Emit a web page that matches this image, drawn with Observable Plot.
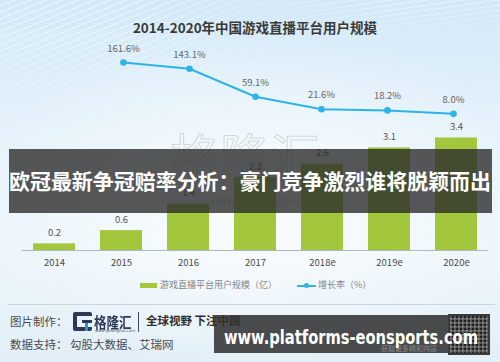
<!DOCTYPE html>
<html>
<head>
<meta charset="utf-8">
<script src="https://cdn.jsdelivr.net/npm/d3@7"></script>
<script src="https://cdn.jsdelivr.net/npm/@observablehq/plot@0.6"></script>
<style>
  html, body { margin: 0; padding: 0; }
  body { width: 500px; height: 362px; overflow: hidden; font-family: "Noto Sans CJK SC", "Noto Sans", sans-serif; }
  #wrap { position: relative; width: 500px; height: 362px; overflow: hidden;
    background:
      radial-gradient(ellipse 300px 170px at 260px 200px, rgba(255,255,255,0.8), rgba(255,255,255,0) 100%),
      linear-gradient(180deg, #d3e9f8 0%, #e3f1fa 35%, #ecf5fb 70%, #e2eff8 100%); }
  #streaks { position: absolute; left: 0; top: 0; width: 500px; height: 140px;
    background: repeating-linear-gradient(158deg, rgba(255,255,255,0) 0 5px, rgba(255,255,255,0.55) 5px 6px);
    -webkit-mask-image: radial-gradient(ellipse 260px 120px at 60px 0px, #000 30%, transparent 100%);
    mask-image: radial-gradient(ellipse 260px 120px at 60px 0px, #000 30%, transparent 100%); }
  #streaks2 { position: absolute; left: 0; top: 0; width: 500px; height: 60px;
    background: repeating-linear-gradient(172deg, rgba(255,255,255,0) 0 4px, rgba(255,255,255,0.45) 4px 5px);
    -webkit-mask-image: radial-gradient(ellipse 200px 40px at 420px 0px, #000 20%, transparent 100%);
    mask-image: radial-gradient(ellipse 200px 40px at 420px 0px, #000 20%, transparent 100%); }
  .abs { position: absolute; }
  #title { left: 0; width: 510px; top: 17px; text-align: center; font-size: 13.5px; font-weight: 700; color: #3a3a3a; }
  #wm { left: 170px; top: 118px; font-size: 50px; font-weight: 400; color: transparent; -webkit-text-stroke: 1px rgba(140,140,140,0.3); }
  #wm2 { left: 205px; top: 193px; font-size: 13px; color: rgba(140,140,140,0.35); font-family: "DejaVu Sans", sans-serif; }
  #c1, #c2 { position: absolute; left: 0; top: 0; }
  #legend { left: 0; top: 276px; width: 500px; height: 18px; font-size: 9px; color: #858585; }
  #legend .sw { position: absolute; left: 140px; top: 7px; width: 17px; height: 5px; background: #a2c63c; }
  #legend .t1 { position: absolute; left: 160px; top: 2px; }
  #legend .ln { position: absolute; left: 297px; top: 8.5px; width: 19px; height: 2px; background: #2cb4e6; }
  #legend .dt { position: absolute; left: 304px; top: 7px; width: 5px; height: 5px; border-radius: 50%; background: #2cb4e6; }
  #legend .t2 { position: absolute; left: 318px; top: 2px; }
  #sep { left: 7px; top: 303.5px; width: 488px; height: 1px; background: #c6d5df; }
  .foot { font-size: 11.5px; color: #4a4a4a; }
  #f1 { left: 10px; top: 313px; }
  #f2 { left: 10px; top: 336px; }
  #logoG { left: 73px; top: 312px; width: 19px; height: 19px; }
  #logoT { left: 94px; top: 310px; font-size: 12.5px; font-weight: 700; color: #2b3a58; transform: scaleY(1.2); transform-origin: left top; }
  #logoU { left: 95px; top: 328px; font-size: 4px; color: #556; font-family: "DejaVu Sans", sans-serif; }
  #vbar { left: 138px; top: 312px; width: 1px; height: 20px; background: #3a4a60; }
  #slogan { left: 146px; top: 312px; font-size: 11.5px; font-weight: 700; color: #2e2e2e; }
  #over { position: absolute; left: 0; top: 0; }
</style>
</head>
<body>
<div id="wrap">
  <div id="streaks"></div>
  <div id="streaks2"></div>
  <div class="abs" id="wm">格隆汇</div>
  <div class="abs" id="wm2">www.gelonghui.com</div>
  <div class="abs" id="title">2014-2020年中国游戏直播平台用户规模</div>
  <div id="c1"></div>
  <div id="c2"></div>
  <div class="abs" id="legend">
    <div class="sw"></div><div class="t1">游戏直播平台用户规模（亿）</div>
    <div class="ln"></div><div class="dt"></div><div class="t2">增长率（%）</div>
  </div>
  <div class="abs" id="sep"></div>
  <div class="abs foot" id="f1">图片制作：</div>
  <div class="abs foot" id="f2">数据支持：&nbsp;勾股大数据、艾瑞网</div>
  <svg class="abs" id="logoG" viewBox="0 0 19 19">
    <rect x="0" y="0" width="19" height="19" rx="2" fill="#2b3a58"/>
    <rect x="4" y="4" width="15" height="11" fill="#e9f3f9"/>
    <rect x="9" y="8" width="10" height="3" fill="#2b3a58"/>
    <rect x="12" y="11" width="3" height="8" fill="#2f8fd8"/>
  </svg>
  <div class="abs" id="logoT">格隆汇</div>
  <div class="abs" id="logoU">www.gelonghui.com</div>
  <div class="abs" id="vbar"></div>
  <div class="abs" id="slogan">全球视野 下注中国</div>
  <svg id="over" width="500" height="362">
    <defs>
      <pattern id="qr" width="4" height="4" patternUnits="userSpaceOnUse">
        <rect width="4" height="4" fill="#555"/>
        <rect width="2" height="2" fill="#222"/>
        <rect x="2" y="2" width="1.5" height="1.5" fill="#999"/>
      </pattern>
    </defs>
    <rect x="9" y="149" width="483" height="64" fill="rgba(45,45,45,0.8)"/>
    <text x="9" y="189" textLength="482" lengthAdjust="spacingAndGlyphs" font-size="21" font-weight="700" fill="#ffffff" font-family="Noto Sans CJK SC, sans-serif">欧冠最新争冠赔率分析：豪门竞争激烈谁将脱颖而出</text>
    <rect x="214" y="315" width="276" height="38" fill="rgba(50,50,50,0.88)"/>
    <rect x="448" y="314" width="42" height="41" fill="#3a3a3a"/>
    <rect x="450" y="316" width="38" height="37" fill="url(#qr)"/>
    <text x="409" y="351" text-anchor="middle" font-size="7" fill="#8a8a8a" font-family="Noto Sans CJK SC, sans-serif">获取更多精彩内容</text>
    <text x="224" y="344" textLength="254" lengthAdjust="spacingAndGlyphs" font-size="19" font-weight="700" fill="#ffffff" font-family="DejaVu Sans, sans-serif">www.platforms-eonsports.com</text>
  </svg>
</div>
<script>
const years = ["2014", "2015", "2016", "2017", "2018e", "2019e", "2020e"];
const users = [0.2, 0.6, 1.4, 2.2, 2.6, 3.1, 3.4];
const growthYears = ["2015", "2016", "2017", "2018e", "2019e", "2020e"];
const growth = [161.6, 143.1, 59.1, 21.6, 18.2, 8.0];

const barData = years.map((year, i) => ({year, v: users[i]}));
const lineData = growthYears.map((year, i) => ({year, g: growth[i]}));

const font = "'Noto Sans CJK SC', 'Noto Sans', sans-serif";
const xCfg = {domain: years, paddingInner: 0.376, paddingOuter: 0.15, label: null};

const bars = Plot.plot({
  width: 500, height: 362,
  marginLeft: 21.4, marginRight: 12.4, marginTop: 117.6, marginBottom: 112,
  x: {...xCfg},
  y: {domain: [0, 4], axis: null},
  style: {background: "transparent", fontFamily: font, overflow: "visible"},
  marks: [
    Plot.barY(barData, {x: "year", y: "v", fill: "#a2c63c"}),
    Plot.ruleY([0], {stroke: "#aeb8c0", strokeWidth: 1}),
    Plot.text(barData, {x: "year", y: "v", text: d => d.v.toFixed(1), dy: -11, fill: "#555", fontSize: 9.5}),
    Plot.axisX({tickSize: 0, tickPadding: 9, fontSize: 9.5, color: "#4a4a4a", label: null})
  ]
});
document.getElementById("c1").appendChild(bars);

const line = Plot.plot({
  width: 500, height: 362,
  marginLeft: 21.4, marginRight: 12.4, marginTop: 49.2, marginBottom: 246,
  x: {...xCfg, axis: null},
  y: {domain: [0, 200], axis: null},
  style: {background: "transparent", fontFamily: font, overflow: "visible"},
  marks: [
    Plot.lineY(lineData, {x: "year", y: "g", stroke: "#2cb4e6", strokeWidth: 2}),
    Plot.dot(lineData, {x: "year", y: "g", r: 3.3, fill: "#2cb4e6"}),
    Plot.text(lineData, {x: "year", y: "g", text: d => d.g.toFixed(1) + "%", dy: -14, fill: "#666", fontSize: 9.5})
  ]
});
document.getElementById("c2").appendChild(line);
</script>
</body>
</html>
